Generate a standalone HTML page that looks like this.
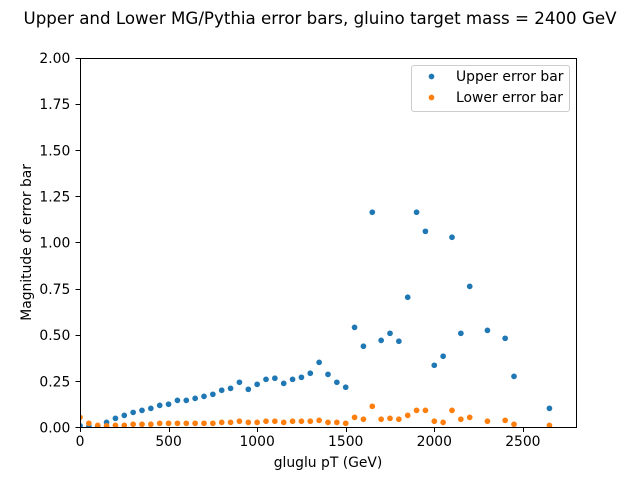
<!DOCTYPE html>
<html>
<head>
<meta charset="utf-8">
<style>
html,body{margin:0;padding:0;background:#fff;width:640px;height:480px;overflow:hidden}
svg{display:block;font-family:"DejaVu Sans",sans-serif;fill:#000}
</style>
</head>
<body>
<svg id="chart" width="640" height="480" viewBox="0 0 640 480" xmlns="http://www.w3.org/2000/svg">
  <rect x="0" y="0" width="640" height="480" fill="#fff"/>
  <text x="320" y="24" font-size="16.67" text-anchor="middle">Upper and Lower MG/Pythia error bars, gluino target mass = 2400 GeV</text>
  <defs><clipPath id="plot-clip"><rect x="80" y="57.6" width="496" height="369.6"/></clipPath></defs>
  <g id="blue-points" clip-path="url(#plot-clip)"></g>
  <g id="orange-points" clip-path="url(#plot-clip)"></g>
  <g id="x-axis"></g>
  <g id="y-axis"></g>
  <rect x="80.5" y="58.5" width="496" height="369" fill="none" stroke="#000" stroke-width="1"/>
  <text x="328" y="467" font-size="13.89" text-anchor="middle">gluglu pT (GeV)</text>
  <text transform="translate(31 242.4) rotate(-90)" font-size="13.89" text-anchor="middle">Magnitude of error bar</text>
  <g>
    <rect x="411.5" y="65.5" width="158" height="46" rx="2.5" fill="#fff" fill-opacity="0.8" stroke="#ccc" stroke-width="1"/>
    <circle cx="431.5" cy="76.5" r="2.85" fill="#1f77b4"/>
    <text x="456" y="81" font-size="13.89">Upper error bar</text>
    <circle cx="431.5" cy="97.5" r="2.85" fill="#ff7f0e"/>
    <text x="456" y="102" font-size="13.89">Lower error bar</text>
  </g>
</svg>
<script>
const pts = [0,50,100,150,200,250,300,350,400,450,500,550,600,650,700,750,800,850,900,950,1000,1050,1100,1150,1200,1250,1300,1350,1400,1450,1500,1550,1600,1650,1700,1750,1800,1850,1900,1950,2000,2050,2100,2150,2200,2300,2400,2450,2650];
const upperValues = [0.008,0.003,0.004,0.026,0.048,0.064,0.08,0.091,0.102,0.118,0.124,0.145,0.145,0.156,0.167,0.178,0.2,0.21,0.243,0.205,0.232,0.259,0.265,0.237,0.259,0.27,0.292,0.351,0.286,0.243,0.216,0.54,0.438,1.163,0.47,0.508,0.465,0.703,1.163,1.06,0.335,0.384,1.028,0.508,0.762,0.524,0.481,0.275,0.102];
const lowerValues = [0.053,0.021,0.01,0.007,0.01,0.01,0.016,0.016,0.016,0.021,0.021,0.021,0.021,0.021,0.021,0.021,0.026,0.026,0.032,0.026,0.026,0.032,0.032,0.026,0.032,0.032,0.032,0.037,0.026,0.026,0.021,0.053,0.043,0.113,0.043,0.048,0.043,0.064,0.091,0.091,0.032,0.026,0.091,0.043,0.053,0.032,0.037,0.016,0.01];
const xTickValues = [0,500,1000,1500,2000,2500];
const xTickLabels = ["0","500","1000","1500","2000","2500"];
const yTickValues = [0,0.25,0.5,0.75,1,1.25,1.5,1.75,2];
const yTickLabels = ["0.00","0.25","0.50","0.75","1.00","1.25","1.50","1.75","2.00"];

const NS = 'http://www.w3.org/2000/svg';
const xMax = 2800, yMax = 2;
const plotLeft = 80, plotRight = 576, plotTop = 57.6, plotBottom = 427.2;
function xScale(v){ return plotLeft + (v / xMax) * (plotRight - plotLeft); }
function yScale(v){ return plotBottom - (v / yMax) * (plotBottom - plotTop); }
function snap(p){ return Math.round(p) + 0.5; }
function make(tag, attrs){
  const el = document.createElementNS(NS, tag);
  for (const k in attrs) el.setAttribute(k, attrs[k]);
  return el;
}
function drawSeries(groupId, values, color){
  const g = document.getElementById(groupId);
  values.forEach(function(v, i){
    const c = make('circle', {cx: xScale(pts[i]), cy: yScale(v), r: 2.85, fill: color});
    
    
    g.appendChild(c);
  });
}
drawSeries('blue-points', upperValues, '#1f77b4');
drawSeries('orange-points', lowerValues, '#ff7f0e');

const xg = document.getElementById('x-axis');
xTickValues.forEach(function(v, i){
  const x = snap(xScale(v));
  const t = make('line', {x1: x, x2: x, y1: 427.5, y2: 432, stroke: '#000', 'stroke-width': 1});
  
  
  xg.appendChild(t);
  const l = make('text', {x: xScale(v), y: plotBottom + 18.8, 'font-size': 13.89, 'text-anchor': 'middle'});
  
  
  l.textContent = xTickLabels[i];
  xg.appendChild(l);
});
const yg = document.getElementById('y-axis');
yTickValues.forEach(function(v, i){
  const y = snap(yScale(v));
  const t = make('line', {x1: 75.5, x2: 80.5, y1: y, y2: y, stroke: '#000', 'stroke-width': 1});
  
  
  yg.appendChild(t);
  const l = make('text', {x: plotLeft - 9.7, y: yScale(v) + 5.3, 'font-size': 13.89, 'text-anchor': 'end'});
  
  
  l.textContent = yTickLabels[i];
  yg.appendChild(l);
});
</script>
</body>
</html>
